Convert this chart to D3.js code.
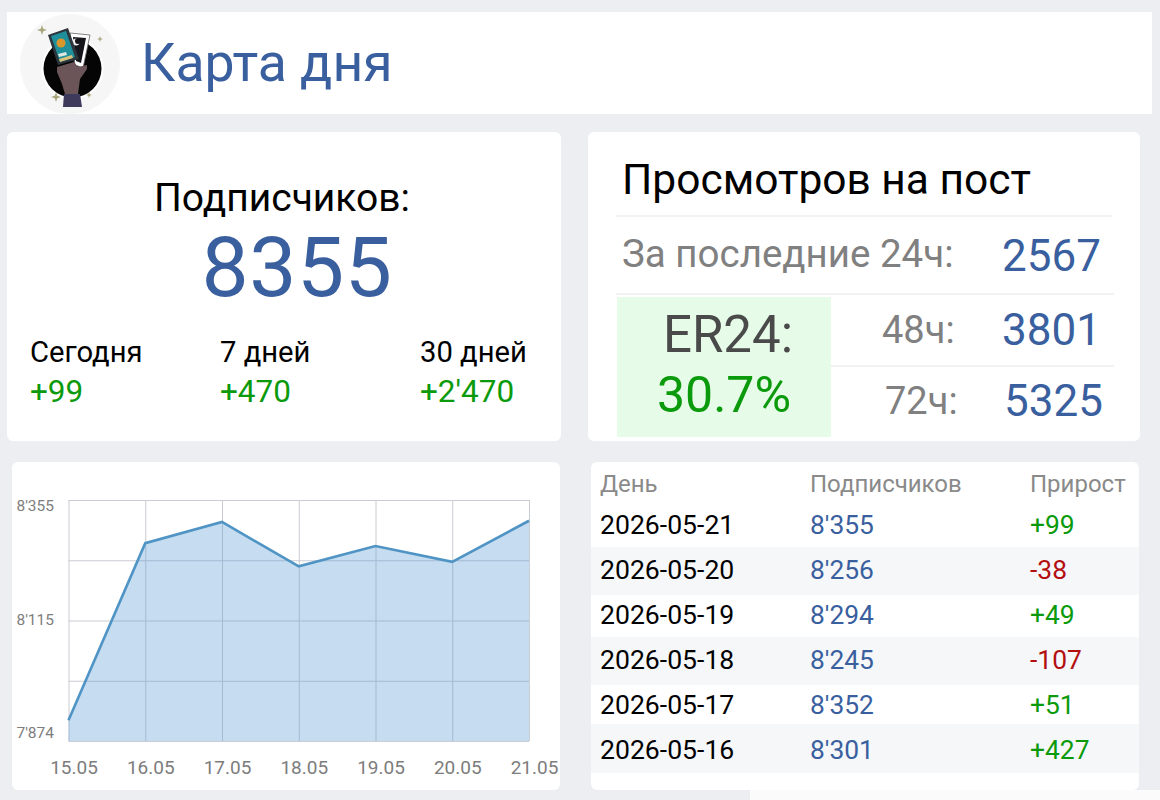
<!DOCTYPE html>
<html>
<head>
<meta charset="utf-8">
<script src="https://cdn.jsdelivr.net/npm/d3@7"></script>
<style>
html, body { margin: 0; padding: 0; background: #eceef1; }
svg { display: block; }
text { font-family: Roboto, "Noto Sans", sans-serif; }
</style>
</head>
<body>
<svg id="page" width="1160" height="800"></svg>
<script>
// chart data
var chartDays = ["15.05", "16.05", "17.05", "18.05", "19.05", "20.05", "21.05"];
var chartSubs = [7874, 8301, 8352, 8245, 8294, 8256, 8355];
var yLabels = [8355, 8115, 7874];

// table
var tableDays = ["2026-05-21", "2026-05-20", "2026-05-19", "2026-05-18", "2026-05-17", "2026-05-16"];
var tableSubs = [8355, 8256, 8294, 8245, 8352, 8301];
var tableDelta = [99, -38, 49, -107, 51, 427];
var tableHeads = ["День", "Подписчиков", "Прирост"];

// summary numbers
var growthNames = ["Сегодня", "7 дней", "30 дней"];
var growthValues = [99, 470, 2470];

var BLUE = "#3a5f9f", GREEN = "#0b9a0b", RED = "#b30f0f", GRAY = "#808080";

var fmt = d3.formatLocale({ decimal: ".", thousands: "'", grouping: [3], currency: ["", ""], minus: "-" });
var num = fmt.format(",d");
var signed = fmt.format("+,d");

var svg = d3.select("#page");

function card(x, y, w, h, r) {
    return svg.append("rect").attr("x", x).attr("y", y).attr("width", w).attr("height", h)
        .attr("rx", r).attr("fill", "#fff");
}
function label(str, x, y, size, color, anchor) {
    return svg.append("text").attr("x", x).attr("y", y).attr("font-size", size)
        .attr("fill", color).attr("text-anchor", anchor || "start").text(str);
}
function hline(x1, x2, y) {
    svg.append("line").attr("x1", x1).attr("x2", x2).attr("y1", y).attr("y2", y)
        .attr("stroke", "#eceef0").attr("stroke-width", 1.5);
}

// cards
card(7, 12, 1145, 102, 0);
card(7, 132, 554, 309, 6);
card(588, 132, 552, 309, 6);
card(12, 462, 548, 328, 6);
card(591, 462, 548, 328, 6);
svg.append("rect").attr("x", 750).attr("y", 790).attr("width", 410).attr("height", 10).attr("fill", "#fbfbfc");

// header with avatar
var ava = svg.append("g");
function poly(points, fill) {
    return ava.append("path").attr("d", d3.line()(points) + "Z").attr("fill", fill);
}
ava.append("circle").attr("cx", 70).attr("cy", 64).attr("r", 50).attr("fill", "#f6f6f7");
ava.append("circle").attr("cx", 72.5).attr("cy", 68.5).attr("r", 31).attr("fill", "#fff");
ava.append("circle").attr("cx", 72.5).attr("cy", 68.5).attr("r", 29).attr("fill", "#050505");
poly([[70, 33], [90, 35], [83, 68], [75, 65]], "#fff").attr("stroke", "#666").attr("stroke-width", 0.8);
poly([[73, 37], [86, 38], [81, 63], [76, 61]], "#15151c");
ava.append("circle").attr("cx", 76).attr("cy", 42).attr("r", 3.5).attr("fill", "#eee");
ava.append("circle").attr("cx", 78).attr("cy", 41).attr("r", 3).attr("fill", "#15151c");
poly([[48, 35], [68, 28], [79, 59], [58, 65]], "#2c343c");
poly([[51, 36], [66, 31], [75, 57], [60, 62]], "#1f8f9c");
ava.append("circle").attr("cx", 61).attr("cy", 43).attr("r", 4.5).attr("fill", "#d9972b");
poly([[58, 54], [66, 52], [67, 55], [59, 57]], "#dfe8e0");
poly([[59, 59], [72, 55], [73, 58], [60, 62]], "#d8c27a");
poly([[57, 67], [74, 62], [78, 67], [87, 65], [87, 69], [80, 79], [78, 94], [65, 94], [62, 84], [57, 72]], "#6b5558");
poly([[64, 94], [80, 94], [82, 107], [63, 107]], "#3d3a5c");
[[42, 30, 5], [56, 97, 5], [100, 39, 3], [89, 95, 3]].forEach(function (s) {
    var k = s[2], q = k / 4;
    poly([[s[0], s[1] - k], [s[0] + q, s[1] - q], [s[0] + k, s[1]], [s[0] + q, s[1] + q],
        [s[0], s[1] + k], [s[0] - q, s[1] + q], [s[0] - k, s[1]], [s[0] - q, s[1] - q]], "#a9a67c");
});
label("Карта дня", 141, 81, 53.5, BLUE);

// subscribers card
label("Подписчиков:", 282, 211, 39, "#000", "middle");
label("8355", 297, 296, 84, BLUE, "middle").attr("letter-spacing", 0.6);
var growthX = d3.scaleOrdinal().domain(growthNames).range([30, 220, 420]);
growthNames.forEach(function (n, i) {
    label(n, growthX(n), 362, 29.2, "#000");
    label(signed(growthValues[i]), growthX(n), 402, 31.5, GREEN);
});

// views card
label("Просмотров на пост", 622, 194, 42.5, "#000");
hline(616, 1112, 216);
label("За последние 24ч:", 622, 267, 38.5, GRAY);
label("2567", 1002, 271, 44, BLUE);
hline(616, 1114, 294);
svg.append("rect").attr("x", 617).attr("y", 297).attr("width", 214).attr("height", 140).attr("fill", "#e6fce9");
label("ER24:", 728, 352, 51, "#4a4a4a", "middle");
label("30.7%", 724, 412, 50, GREEN, "middle");
label("48ч:", 882, 343, 38, GRAY);
label("3801", 1002, 345, 44, BLUE);
hline(831, 1114, 366);
label("72ч:", 885, 414, 38, GRAY);
label("5325", 1004, 416, 44, BLUE);

// area chart
var x = d3.scalePoint().domain(chartDays).range([68.5, 529]);
var y = d3.scaleLinear().domain([d3.min(chartSubs) - 50, d3.max(chartSubs) + 50]).range([741, 500]);
var plot = svg.append("g");

var gridColor = "#c9ccd2";
plot.append("g")
    .attr("transform", "translate(0,741)")
    .call(d3.axisBottom(x).tickSize(-241).tickFormat(""))
    .call(function (g) { g.select(".domain").remove(); g.selectAll("line").attr("stroke", gridColor); });
plot.append("g")
    .attr("transform", "translate(68.5,0)")
    .call(d3.axisLeft(y).tickValues(d3.range(5).map(function (i) { return y.domain()[0] + i * (y.domain()[1] - y.domain()[0]) / 4; }))
        .tickSize(-460.5).tickFormat(""))
    .call(function (g) { g.select(".domain").remove(); g.selectAll("line").attr("stroke", gridColor); });

var series = chartDays.map(function (d, i) { return { day: d, subs: chartSubs[i] }; });
plot.append("path").datum(series)
    .attr("fill", "#5b9bd5").attr("fill-opacity", 0.35)
    .attr("d", d3.area().x(function (d) { return x(d.day); }).y0(y.range()[0]).y1(function (d) { return y(d.subs); }));
plot.append("path").datum(series)
    .attr("fill", "none").attr("stroke", "#4f94c4").attr("stroke-width", 2.6)
    .attr("d", d3.line().x(function (d) { return x(d.day); }).y(function (d) { return y(d.subs); }));

// x labels start a bit right of the gridline, y labels are spread out over the plot
plot.append("g")
    .attr("transform", "translate(5,741)")
    .call(d3.axisBottom(x).tickSize(0).tickPadding(20))
    .call(function (g) {
        g.select(".domain").remove();
        g.selectAll("text").attr("font-size", 19).attr("fill", "#7d7d7d").attr("font-family", "Roboto");
    });
var yLab = d3.scaleLinear().domain([7874, 8355]).range([733, 506]);
plot.append("g")
    .attr("transform", "translate(54,0)")
    .call(d3.axisLeft(yLab).tickValues(yLabels).tickSize(0).tickPadding(0).tickFormat(num))
    .call(function (g) {
        g.select(".domain").remove();
        g.selectAll("text").attr("font-size", 15.5).attr("fill", "#7d7d7d").attr("font-family", "Roboto");
    });

// table
var colX = [600, 810, 1030];
var rowY = d3.scalePoint().domain(tableDays).range([525, 750]);
var stripes = [[547, 595], [637, 685], [724, 773]];
svg.selectAll(".stripe").data(stripes).join("rect").attr("class", "stripe")
    .attr("x", 591).attr("width", 548)
    .attr("y", function (d) { return d[0]; })
    .attr("height", function (d) { return d[1] - d[0]; })
    .attr("fill", "#f5f7f9");
tableHeads.forEach(function (h, i) { label(h, colX[i], 492, 24, "#8a8a8a"); });
tableDays.forEach(function (d, i) {
    var by = rowY(d) + 9;
    label(d, colX[0], by, 26.6, "#000");
    label(num(tableSubs[i]), colX[1], by, 26.4, BLUE);
    label(signed(tableDelta[i]), colX[2], by, 26.4, tableDelta[i] < 0 ? RED : GREEN);
});
</script>
</body>
</html>
